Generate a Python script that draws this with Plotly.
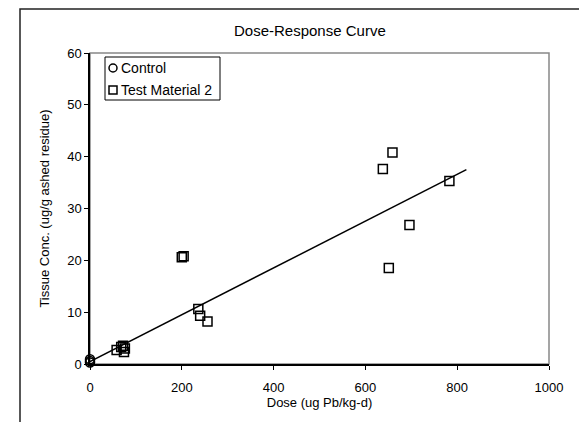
import plotly.graph_objects as go

# Data
control_dose = [0, 0, 0]
control_conc = [0.3, 0.6, 0.9]

test_dose = [58, 68, 72, 76, 74, 200, 204, 236, 240, 256, 638, 651, 659, 696, 783]
test_conc = [2.7, 3.3, 3.5, 3.0, 2.3, 20.6, 20.8, 10.6, 9.3, 8.2, 37.6, 18.5, 40.8, 26.8, 35.3]

trend_slope = 0.0452
trend_intercept = 0.45
trend_x = [0, 820]
trend_y = [trend_intercept + trend_slope * x for x in trend_x]

x_ticks = [0, 200, 400, 600, 800, 1000]
y_ticks = [0, 10, 20, 30, 40, 50, 60]

W, H = 587, 422
OFF = 8  # page body margin offset
L, R, T, B = 90 - OFF, 549 - OFF, 53 - OFF, 364 - OFF


def px_x(p):
    """screen pixel x -> paper coordinate"""
    return (p - OFF - L) / (R - L)


def px_y(p):
    """screen pixel y -> paper coordinate"""
    return (B - (p - OFF)) / (B - T)


FONT = "Liberation Sans, Arial, sans-serif"

fig = go.Figure()
fig.add_trace(go.Scatter(
    x=trend_x, y=trend_y, mode="lines",
    line=dict(color="black", width=1.5), showlegend=False, hoverinfo="skip"))
fig.add_trace(go.Scatter(
    x=control_dose, y=control_conc, mode="markers", name="Control",
    cliponaxis=False, showlegend=False,
    marker=dict(symbol="circle-open", size=9, color="black", line=dict(width=1.5))))
fig.add_trace(go.Scatter(
    x=test_dose, y=test_conc, mode="markers", name="Test Material 2",
    cliponaxis=False, showlegend=False,
    marker=dict(symbol="square-open", size=9, color="black", line=dict(width=1.5))))

# legend box (drawn manually to match the compact spreadsheet style)
lg_left, lg_right, lg_top, lg_bot = 105, 220, 57, 100
rows = [("Control", "circle", 68), ("Test Material 2", "rect", 90)]
shapes = [
    dict(type="rect", xref="paper", yref="paper",
         x0=px_x(20), x1=px_x(640), y0=px_y(480), y1=px_y(9),
         line=dict(color="#222", width=1.5), layer="below"),
    dict(type="rect", xref="paper", yref="paper",
         x0=0, x1=1, y0=0, y1=1,
         line=dict(color="#888", width=1.5), layer="below"),
    dict(type="rect", xref="paper", yref="paper",
         x0=px_x(lg_left), x1=px_x(lg_right), y0=px_y(lg_bot), y1=px_y(lg_top),
         line=dict(color="black", width=1), fillcolor="white", layer="above"),
]
annotations = [dict(text="Dose-Response Curve", x=px_x(310), y=px_y(30),
                    xref="paper", yref="paper", showarrow=False,
                    font=dict(size=15), xanchor="center", yanchor="middle")]
for name, sym, yc in rows:
    cx = 113
    shapes.append(dict(type=sym, xref="paper", yref="paper",
                       x0=px_x(cx - 4), x1=px_x(cx + 4),
                       y0=px_y(yc + 4), y1=px_y(yc - 4),
                       line=dict(color="black", width=1.5), layer="above"))
    annotations.append(dict(text=name, x=px_x(119), y=px_y(yc), xref="paper", yref="paper",
                            showarrow=False, xanchor="left", yanchor="middle",
                            font=dict(size=14)))

fig.update_layout(
    width=W, height=H,
    margin=dict(l=L, r=W - R, t=T, b=H - B),
    paper_bgcolor="white", plot_bgcolor="white",
    font=dict(family=FONT, size=13, color="black"),
    showlegend=False,
    annotations=annotations,
    shapes=shapes,
)
fig.update_xaxes(
    range=[0, 1000], tickvals=x_ticks, showgrid=False, zeroline=False,
    showline=True, linecolor="black", linewidth=1.5, automargin=False,
    ticks="outside", ticklen=4, tickcolor="black", ticklabelstandoff=7,
    title=dict(text="Dose (ug Pb/kg-d)", font=dict(size=13), standoff=3),
    tickfont=dict(size=13))
fig.update_yaxes(
    range=[0, 60], tickvals=y_ticks, showgrid=False, zeroline=False,
    showline=True, linecolor="black", linewidth=1.5, automargin=False,
    ticks="outside", ticklen=4, tickcolor="black",
    title=dict(text="Tissue Conc. (ug/g ashed residue)", font=dict(size=13), standoff=15),
    tickfont=dict(size=13))

fig.write_html("out.html")
